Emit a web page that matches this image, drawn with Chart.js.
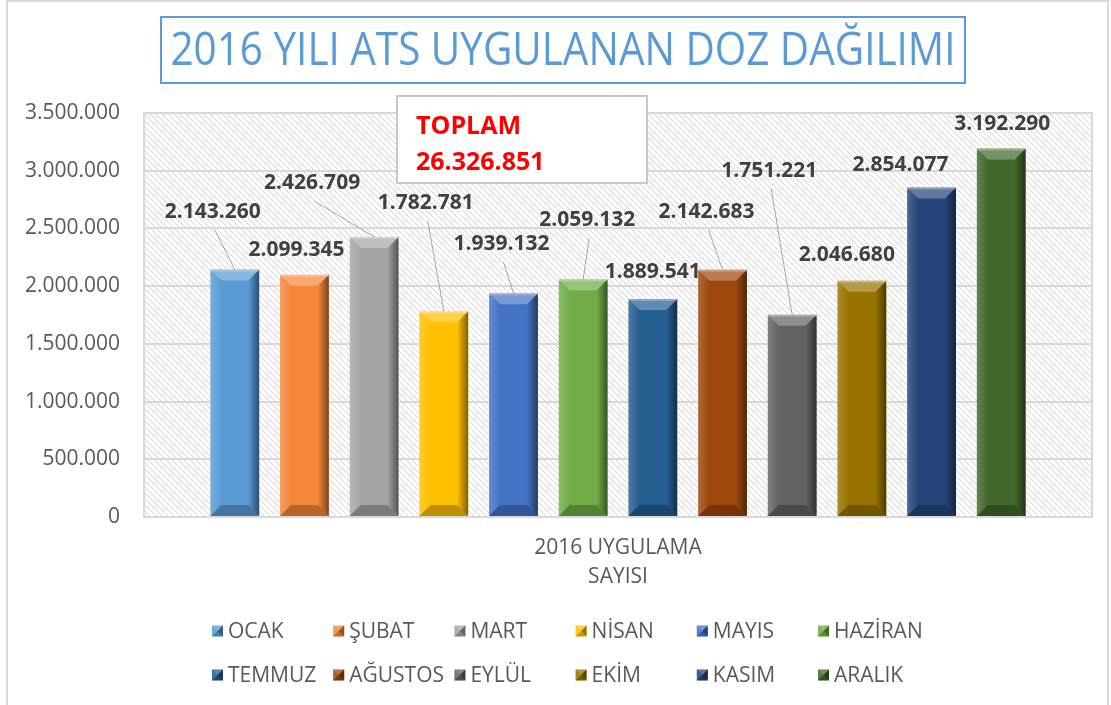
<!DOCTYPE html>
<html>
<head>
<meta charset="utf-8">
<script src="https://cdn.jsdelivr.net/npm/chart.js@4.4.1/dist/chart.umd.min.js"></script>
<style>
  html, body { margin: 0; padding: 0; background: #fff; }
  #wrap { width: 1111px; height: 705px; }
</style>
</head>
<body>
<div id="wrap"><canvas id="doz" width="1111" height="705"></canvas></div>
<script>
const titleText = "2016 YILI ATS UYGULANAN DOZ DAĞILIMI";
const category = ["2016 UYGULAMA", "SAYISI"];
const months = ["OCAK", "ŞUBAT", "MART", "NİSAN", "MAYIS", "HAZİRAN",
  "TEMMUZ", "AĞUSTOS", "EYLÜL", "EKİM", "KASIM", "ARALIK"];
const doses = [2143260, 2099345, 2426709, 1782781, 1939132, 2059132,
  1889541, 2142683, 1751221, 2046680, 2854077, 3192290];
const yTicks = [0, 500000, 1000000, 1500000, 2000000, 2500000, 3000000, 3500000];

const colors = ["#5B9BD5", "#F5873A", "#A5A5A5", "#FFC000", "#4472C4", "#70AD47",
  "#255E91", "#9E480E", "#636363", "#997300", "#264478", "#43682B"];
// where each value label sits, in px from the top centre of its bar
const labelShift = [[-22, -58], [-8, -25], [-62, -54], [-18, -108], [-12, -49], [4, -59],
  [0, -27], [-16, -58], [-23, -144], [-15, -26], [-31, -23], [1, -25]];

const fmt = (n) => String(n).replace(/\B(?=(\d{3})+(?!\d))/g, ".");
const total = doses.reduce((a, b) => a + b, 0);

Chart.defaults.font.family = "'Open Sans', sans-serif";

function poly(ctx, pts, fill) {
  ctx.beginPath();
  ctx.moveTo(pts[0][0], pts[0][1]);
  for (let i = 1; i < pts.length; i++) ctx.lineTo(pts[i][0], pts[i][1]);
  ctx.closePath();
  ctx.fillStyle = fill;
  ctx.fill();
}

function hatch(ctx) {
  const c = document.createElement("canvas");
  c.width = 6;
  c.height = 6;
  const p = c.getContext("2d");
  p.fillStyle = "#fff";
  p.fillRect(0, 0, 6, 6);
  p.strokeStyle = "#d3d3d3";
  p.lineWidth = 1;
  p.beginPath();
  p.moveTo(-1, -1); p.lineTo(7, 7);
  p.moveTo(-1, 5); p.lineTo(1, 7);
  p.moveTo(5, -1); p.lineTo(7, 1);
  p.stroke();
  return ctx.createPattern(c, "repeat");
}

const frame = {
  id: "frame",
  beforeDraw(chart) {
    const { ctx, chartArea: a } = chart;
    ctx.save();
    ctx.fillStyle = "#fff";
    ctx.fillRect(0, 0, chart.width, chart.height);
    ctx.strokeStyle = "#d9d9d9";
    ctx.lineWidth = 2;
    ctx.strokeRect(7, 1, 1101, 720);
    ctx.fillStyle = hatch(ctx);
    ctx.fillRect(a.left, a.top, a.right - a.left, a.bottom - a.top);
    ctx.restore();
  },
  beforeDatasetsDraw(chart) {
    const { ctx, chartArea: a } = chart;
    ctx.save();
    ctx.strokeStyle = "#d9d9d9";
    ctx.lineWidth = 2;
    ctx.strokeRect(a.left, a.top, a.right - a.left, a.bottom - a.top);
    ctx.restore();
  },
  afterDraw(chart) {
    const ctx = chart.ctx;
    ctx.save();
    // title box
    ctx.strokeStyle = "#5B9BD5";
    ctx.lineWidth = 2;
    ctx.strokeRect(161, 17, 804, 66);
    ctx.font = "46px 'Open Sans'";
    ctx.fillStyle = "#5B9BD5";
    ctx.textAlign = "center";
    ctx.textBaseline = "alphabetic";
    const w = ctx.measureText(titleText).width;
    ctx.translate(563, 65);
    ctx.scale(785 / w, 1);
    ctx.fillText(titleText, 0, 0);
    ctx.restore();

    // total box
    ctx.save();
    ctx.fillStyle = "#fff";
    ctx.fillRect(397, 96, 250, 87);
    ctx.strokeStyle = "#c8c8c8";
    ctx.lineWidth = 2;
    ctx.strokeRect(397, 96, 250, 87);
    ctx.fillStyle = "#FF0000";
    ctx.font = "bold 25px 'Open Sans'";
    ctx.textAlign = "left";
    ctx.textBaseline = "alphabetic";
    ctx.fillText("TOPLAM", 416, 134);
    ctx.fillText(fmt(total), 416, 170);
    ctx.restore();

    // legend, 6 columns x 2 rows
    ctx.save();
    ctx.font = "21px 'Open Sans'";
    ctx.textBaseline = "middle";
    ctx.textAlign = "left";
    months.forEach((m, i) => {
      const x = 212 + (i % 6) * 121.2;
      const y = 631 + Math.floor(i / 6) * 44;
      const s = 11, x0 = x, y0 = y - s / 2;
      ctx.fillStyle = colors[i];
      ctx.fillRect(x0, y0, s, s);
      poly(ctx, [[x0, y0], [x0 + s, y0], [x0 + s / 2, y0 + s / 2]], "rgba(255,255,255,0.25)");
      poly(ctx, [[x0, y0], [x0 + s / 2, y0 + s / 2], [x0, y0 + s]], "rgba(255,255,255,0.12)");
      poly(ctx, [[x0 + s, y0], [x0 + s, y0 + s], [x0 + s / 2, y0 + s / 2]], "rgba(0,0,0,0.4)");
      poly(ctx, [[x0, y0 + s], [x0 + s, y0 + s], [x0 + s / 2, y0 + s / 2]], "rgba(0,0,0,0.2)");
      ctx.fillStyle = "#595959";
      ctx.fillText(m, x + 16, y + 1);
    });
    ctx.restore();
  },
};

const bevelLabels = {
  id: "bevelLabels",
  afterDatasetsDraw(chart) {
    const ctx = chart.ctx;
    ctx.save();
    chart.data.datasets.forEach((ds, i) => {
      const el = chart.getDatasetMeta(i).data[0];
      const x0 = el.x - el.width / 2, x1 = el.x + el.width / 2;
      const y0 = el.y, y1 = el.base, b = 11;
      const lg = ctx.createLinearGradient(x0, 0, x0 + b, 0);
      lg.addColorStop(0, "rgba(255,255,255,0.18)");
      lg.addColorStop(1, "rgba(255,255,255,0)");
      poly(ctx, [[x0, y0], [x0 + b, y0 + b], [x0 + b, y1 - b], [x0, y1]], lg);
      const rg = ctx.createLinearGradient(x1 - b, 0, x1, 0);
      rg.addColorStop(0, "rgba(0,0,0,0)");
      rg.addColorStop(1, "rgba(0,0,0,0.5)");
      poly(ctx, [[x1, y0], [x1 - b, y0 + b], [x1 - b, y1 - b], [x1, y1]], rg);
      poly(ctx, [[x0, y0], [x1, y0], [x1 - b, y0 + b], [x0 + b, y0 + b]], "rgba(255,255,255,0.28)");
      poly(ctx, [[x0, y0], [x1, y0], [x1, y0 + 2], [x0, y0 + 2]], "rgba(255,255,255,0.25)");
      poly(ctx, [[x0, y1], [x1, y1], [x1 - b, y1 - b], [x0 + b, y1 - b]], "rgba(0,0,0,0.25)");
    });
    chart.data.datasets.forEach((ds, i) => {
      const el = chart.getDatasetMeta(i).data[0];
      const lx = el.x + labelShift[i][0];
      const ly = el.y + labelShift[i][1];
      if (labelShift[i][1] < -35) {
        ctx.strokeStyle = "#a6a6a6";
        ctx.lineWidth = 1;
        ctx.beginPath();
        ctx.moveTo(lx + 2, ly + 18);
        ctx.lineTo(el.x, el.y);
        ctx.stroke();
      }
      ctx.font = "bold 21px 'Open Sans'";
      ctx.fillStyle = "#404040";
      ctx.textAlign = "center";
      ctx.textBaseline = "middle";
      ctx.fillText(fmt(ds.data[0]), lx, ly);
    });
    ctx.restore();
  },
};

new Chart(document.getElementById("doz"), {
  type: "bar",
  data: {
    labels: [category],
    datasets: months.map((m, i) => ({
      label: m,
      data: [doses[i]],
      backgroundColor: colors[i],
      borderWidth: 0,
      categoryPercentage: 0.882,
      barPercentage: 0.7,
    })),
  },
  options: {
    responsive: false,
    animation: false,
    events: [],
    layout: {
      padding: { top: 113, left: 10, right: 19, bottom: 108 },
    },
    plugins: {
      legend: { display: false },
      title: { display: false },
      tooltip: { enabled: false },
    },
    scales: {
      x: {
        grid: { display: false, drawTicks: false },
        border: { display: false },
        ticks: {
          color: "#595959",
          padding: 17,
          font: { size: 21, lineHeight: 1.38 },
        },
        afterFit: (s) => { s.height = 80; },
      },
      y: {
        min: 0,
        max: 3500000,
        afterBuildTicks: (s) => { s.ticks = yTicks.map((v) => ({ value: v })); },
        grid: { color: "#d9d9d9", lineWidth: 2, drawTicks: false },
        border: { display: false },
        ticks: {
          color: "#595959",
          padding: 24,
          font: { size: 21 },
          callback: (v) => fmt(v),
        },
        afterFit: (s) => { s.width = 134; },
      },
    },
  },
  plugins: [frame, bevelLabels],
});
</script>
</body>
</html>
